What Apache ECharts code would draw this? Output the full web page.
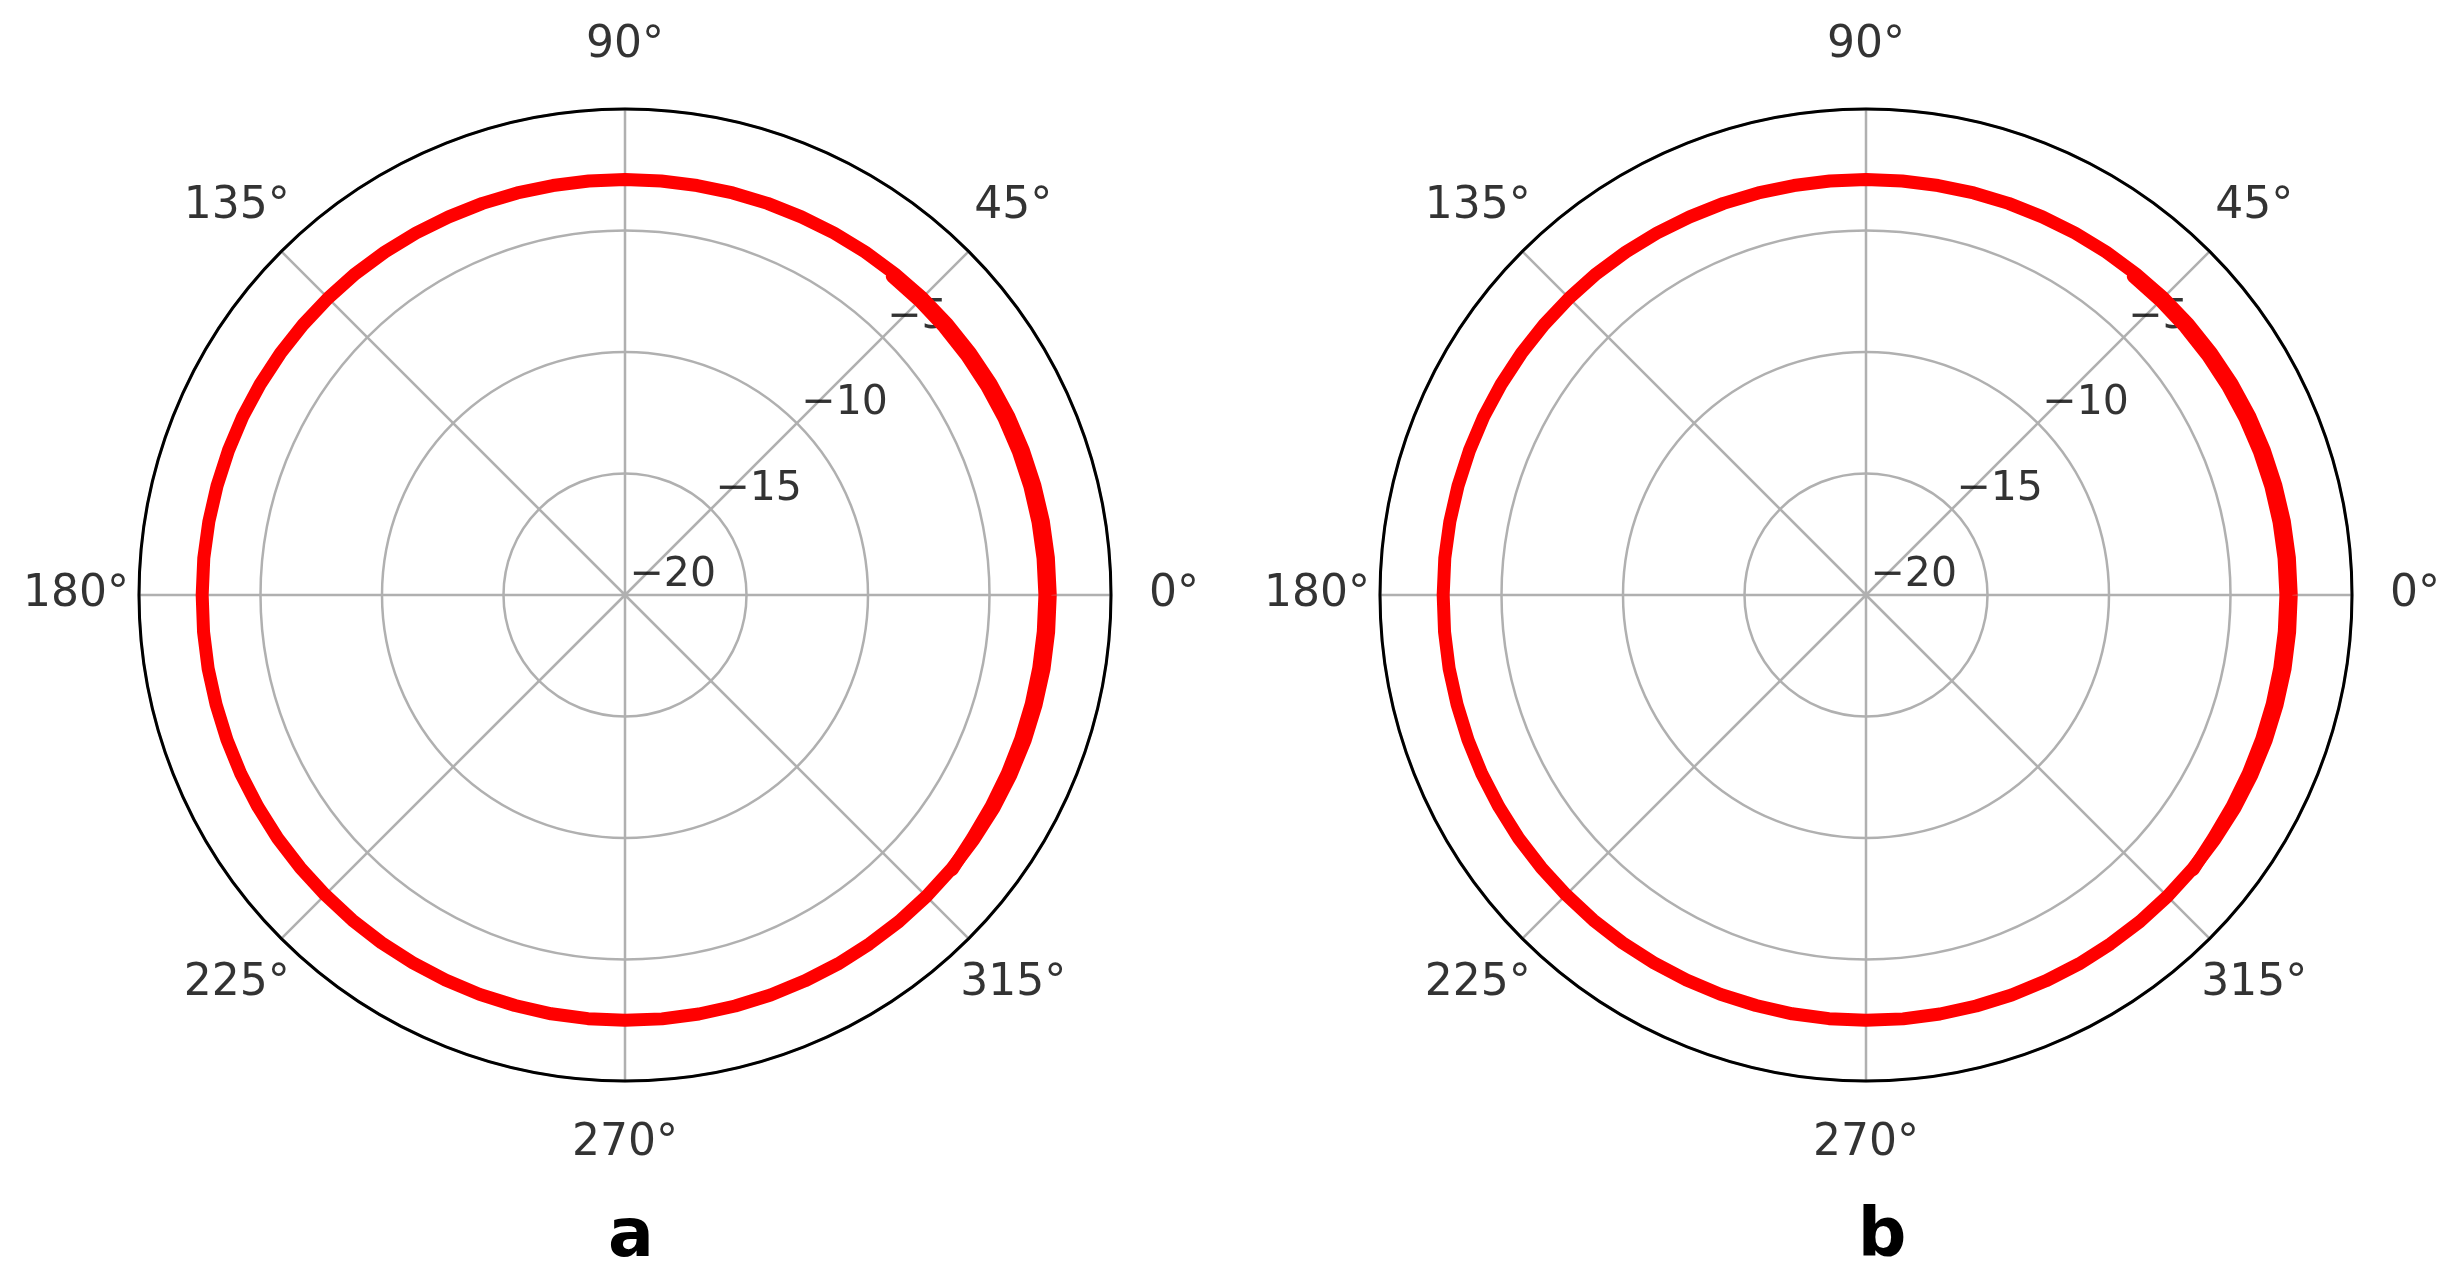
<!DOCTYPE html>
<html>
<head>
<meta charset="utf-8">
<script src="https://cdn.jsdelivr.net/npm/echarts@6/dist/echarts.min.js"></script>
<style>
  html, body { margin: 0; padding: 0; background: #fff; }
  #chart { width: 2457px; height: 1283px; }
</style>
</head>
<body>
<div id="chart"></div>
<script>
// radial scale (dB) and angle ticks
const R_MIN = -20;
const R_MAX = 0;
const R_TICKS = [-20, -15, -10, -5];
const ANGLE_TICKS = [0, 45, 90, 135, 180, 225, 270, 315];
const ANGLE_LABELS = ["0°", "45°", "90°", "135°", "180°", "225°", "270°", "315°"];

// main pattern trace, every 5 deg from 0 to 360
const patternAngles = [
  0, 5, 10, 15, 20, 25, 30, 35, 40, 45, 50, 55, 60, 65, 70, 75, 80, 85,
  90, 95, 100, 105, 110, 115, 120, 125, 130, 135, 140, 145, 150, 155, 160, 165, 170, 175,
  180, 185, 190, 195, 200, 205, 210, 215, 220, 225, 230, 235, 240, 245, 250, 255, 260, 265,
  270, 275, 280, 285, 290, 295, 300, 305, 310, 315, 320, 325, 330, 335, 340, 345, 350, 355, 360];
const patternGain = [
  -2.50, -2.51, -2.52, -2.54, -2.56, -2.58, -2.61, -2.64, -2.67, -2.70, -2.74, -2.77, -2.80, -2.83, -2.85, -2.87, -2.89, -2.90,
  -2.90, -2.90, -2.89, -2.87, -2.85, -2.83, -2.80, -2.77, -2.74, -2.72, -2.70, -2.68, -2.66, -2.64, -2.63, -2.62, -2.61, -2.60,
  -2.60, -2.59, -2.58, -2.58, -2.57, -2.56, -2.56, -2.55, -2.55, -2.55, -2.54, -2.53, -2.53, -2.52, -2.51, -2.51, -2.50, -2.50,
  -2.50, -2.49, -2.49, -2.49, -2.48, -2.48, -2.47, -2.47, -2.46, -2.46, -2.46, -2.47, -2.47, -2.48, -2.48, -2.49, -2.49, -2.50, -2.50];

// second trace that thickens the right side (320 deg round to 50 deg)
const sideAngles = [320, 325, 330, 335, 340, 345, 350, 355, 360, 0, 5, 10, 15, 20, 25, 30, 35, 40, 45, 50];
const sideGain = [-2.42, -2.55, -2.60, -2.64, -2.67, -2.69, -2.71, -2.72, -2.72, -2.72, -2.73, -2.74, -2.75, -2.77, -2.79, -2.81, -2.83, -2.85, -2.87, -2.89];

const PANELS = [
  { label: "a", cx: 625, labelX: 631 },
  { label: "b", cx: 1866, labelX: 1882 },
];
const CY = 595;
const RADIUS = 486;
const LABEL_GAP = 63; // px outside the rim, matplotlib style

const FONT = "DejaVu Sans";
const GRID = "#b0b0b0";
const RED = "#ff0000";

const toPts = (angles, gains) => angles.map((a, i) => [gains[i], a]);
const fmtMinus = (v) => String(v).replace("-", "\u2212");
const rLabel = R_MAX + (LABEL_GAP * (R_MAX - R_MIN)) / RADIUS;

const chart = echarts.init(document.getElementById("chart"), null, { renderer: "canvas" });

const polar = PANELS.map((p) => ({ center: [p.cx, CY], radius: RADIUS }));

const angleAxis = PANELS.map((p, i) => ({
  polarIndex: i,
  type: "value",
  min: 0,
  max: 360,
  interval: 45,
  startAngle: 0,
  clockwise: false,
  axisLine: { show: true, lineStyle: { color: "#000", width: 3 } },
  axisTick: { show: false },
  axisLabel: { show: false },
  splitLine: { show: true, lineStyle: { color: GRID, width: 2.5 } },
}));

const radiusAxis = PANELS.map((p, i) => ({
  polarIndex: i,
  type: "value",
  min: R_MIN,
  max: R_MAX,
  interval: 5,
  axisLine: { show: false },
  axisTick: { show: false },
  axisLabel: { show: false },
  splitLine: { show: true, lineStyle: { color: GRID, width: 2.5 } },
}));

const series = [];
PANELS.forEach((p, i) => {
  // angle tick labels, centred just outside the rim
  series.push({
    type: "scatter",
    coordinateSystem: "polar",
    polarIndex: i,
    clip: false,
    silent: true,
    symbolSize: 1,
    itemStyle: { color: "rgba(0,0,0,0)" },
    data: ANGLE_TICKS.map((a, k) => ({ value: [rLabel, a], name: ANGLE_LABELS[k] })),
    label: {
      show: true,
      position: "inside",
      align: "center",
      verticalAlign: "middle",
      color: "#000",
      fontFamily: FONT,
      fontSize: 44,
      formatter: (d) => d.name,
    },
  });
  // radial tick labels along the 45 deg spoke
  series.push({
    type: "scatter",
    coordinateSystem: "polar",
    polarIndex: i,
    z: 1,
    silent: true,
    symbolSize: 1,
    itemStyle: { color: "rgba(0,0,0,0)" },
    data: R_TICKS.map((r) => [r, 45]),
    label: {
      show: true,
      position: [5, -19],
      align: "left",
      verticalAlign: "middle",
      color: "#000",
      fontFamily: FONT,
      fontSize: 41,
      formatter: (d) => fmtMinus(d.value[0]),
    },
  });
  series.push({
    type: "line",
    coordinateSystem: "polar",
    polarIndex: i,
    z: 3,
    symbol: "none",
    lineStyle: { color: RED, width: 13, join: "round", cap: "round" },
    data: toPts(sideAngles, sideGain),
  });
  series.push({
    type: "line",
    coordinateSystem: "polar",
    polarIndex: i,
    z: 3,
    symbol: "none",
    lineStyle: { color: RED, width: 13, join: "round" },
    data: toPts(patternAngles, patternGain),
  });
});

chart.setOption({
  backgroundColor: "#fff",
  animation: false,
  title: PANELS.map((p) => ({
    text: p.label,
    left: p.labelX,
    top: 1204,
    padding: 0,
    textAlign: "center",
    textStyle: { fontFamily: FONT, fontSize: 68, fontWeight: "bold", color: "#000" },
  })),
  polar,
  angleAxis,
  radiusAxis,
  series,
});
</script>
</body>
</html>
